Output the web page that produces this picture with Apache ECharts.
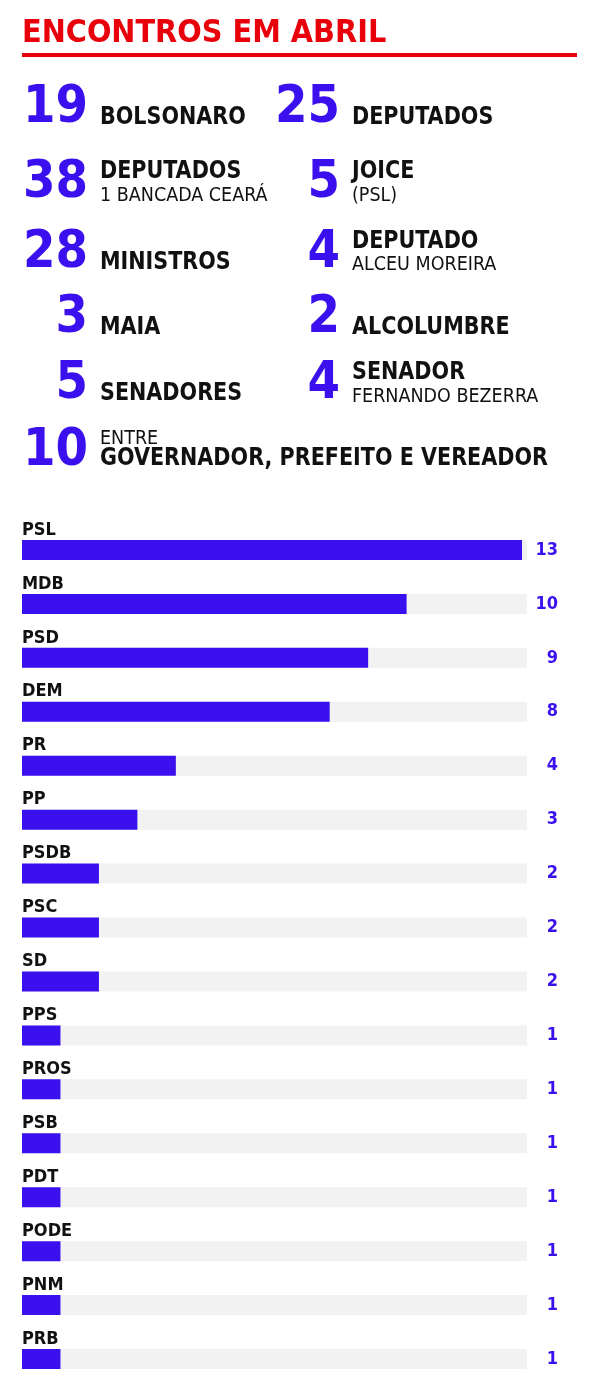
<!DOCTYPE html>
<html>
<head>
<meta charset="utf-8">
<script src="https://cdn.jsdelivr.net/npm/echarts@6/dist/echarts.min.js"></script>
<style>
  html, body { margin: 0; padding: 0; background: #fff; }
  #main { width: 600px; height: 1399px; }
</style>
</head>
<body>
<div id="main"></div>
<script>
// dados
const titleText = "ENCONTROS EM ABRIL";
const statValues = ["19", "25", "38", "5", "28", "4", "3", "2", "5", "4", "10"];
const statTitles = ["BOLSONARO", "DEPUTADOS", "DEPUTADOS", "JOICE", "MINISTROS", "DEPUTADO",
  "MAIA", "ALCOLUMBRE", "SENADORES", "SENADOR", "GOVERNADOR, PREFEITO E VEREADOR"];
const statSubs = ["", "", "1 BANCADA CEARÁ", "(PSL)", "", "ALCEU MOREIRA",
  "", "", "", "FERNANDO BEZERRA", "ENTRE"];
const partidos = ["PSL", "MDB", "PSD", "DEM", "PR", "PP", "PSDB", "PSC", "SD",
  "PPS", "PROS", "PSB", "PDT", "PODE", "PNM", "PRB"];
const encontros = [13, 10, 9, 8, 4, 3, 2, 2, 2, 1, 1, 1, 1, 1, 1, 1];

// layout (coluna, linha) de cada item do topo
const statCol = [0, 1, 0, 1, 0, 1, 0, 1, 0, 1, 0];
const statRow = [0, 0, 1, 1, 2, 2, 3, 3, 4, 4, 5];
const rowY = [108.5, 183.5, 253, 318.5, 384.5, 451.5];
const colNumRight = [88, 340];
const colLabelX = [100, 352];

const BLUE = "#3b10ee";
const RED = "#e8000b";
const FONT = "'DejaVu Sans Condensed', 'DejaVu Sans', sans-serif";

const graphics = [
  { type: "text", x: 22, y: 33.5,
    style: { text: titleText, fill: RED, font: "bold 32px " + FONT, verticalAlign: "middle" } },
  { type: "rect", shape: { x: 22, y: 53, width: 555, height: 4 }, style: { fill: RED } }
];

statValues.forEach((v, i) => {
  const cy = rowY[statRow[i]];
  const c = statCol[i];
  graphics.push({
    type: "text", x: colNumRight[c], y: cy,
    style: { text: v, fill: BLUE, font: "bold 52px " + FONT, align: "right", verticalAlign: "middle" }
  });
  let titleY = cy + 9, subY = null;
  if (statSubs[i]) {
    if (i === statValues.length - 1) { subY = cy - 13; titleY = cy + 7; }
    else { titleY = cy - 12; subY = cy + 12; }
  }
  graphics.push({
    type: "text", x: colLabelX[c], y: titleY, scaleX: 0.92,
    style: { text: statTitles[i], fill: "#111", font: "bold 25px " + FONT, verticalAlign: "middle" }
  });
  if (subY !== null) {
    graphics.push({
      type: "text", x: colLabelX[c], y: subY,
      style: { text: statSubs[i], fill: "#111", font: "19.5px " + FONT, verticalAlign: "middle" }
    });
  }
});

const chart = echarts.init(document.getElementById("main"), null, { renderer: "canvas" });
chart.setOption({
  animation: false,
  backgroundColor: "#fff",
  graphic: graphics,
  grid: { left: 22, top: 523, width: 505, height: 863, containLabel: false },
  xAxis: { type: "value", min: 0, max: 13.13, show: false },
  yAxis: [
    {
      type: "category", data: partidos, inverse: true,
      axisLine: { show: false }, axisTick: { show: false }, axisLabel: { show: false }, splitLine: { show: false }
    },
    {
      type: "category", data: encontros.map(String), inverse: true, position: "right",
      axisLine: { show: false }, axisTick: { show: false }, splitLine: { show: false },
      axisLabel: { margin: 31, align: "right", color: BLUE, fontSize: 18, fontWeight: "bold", fontFamily: FONT }
    }
  ],
  series: [
    {
      type: "bar",
      data: encontros,
      barWidth: 20,
      itemStyle: { color: BLUE },
      showBackground: true,
      backgroundStyle: { color: "#f2f2f2" },
      label: {
        show: true,
        position: [0, -10],
        align: "left",
        verticalAlign: "middle",
        formatter: "{b}",
        color: "#111",
        fontSize: 18,
        fontWeight: "bold",
        fontFamily: FONT
      }
    }
  ]
});
</script>
</body>
</html>
